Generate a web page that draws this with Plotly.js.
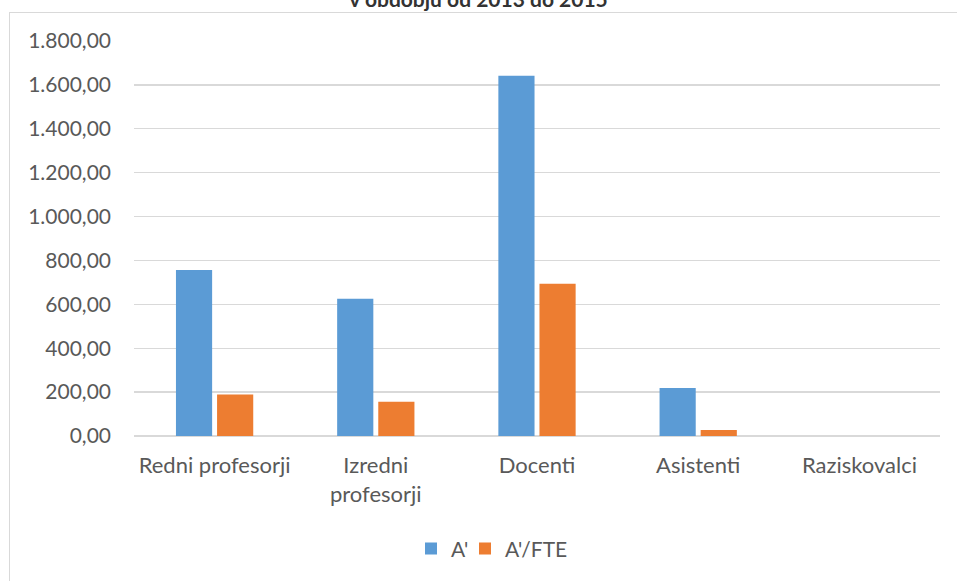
<!DOCTYPE html>
<html>
<head>
<meta charset="utf-8">
<script src="https://cdn.plot.ly/plotly-3.0.1.min.js"></script>
<style>
  html, body { margin: 0; padding: 0; background: #fff; }
  #wrap { position: relative; width: 957px; height: 581px; }
  #chart { width: 957px; height: 581px; }
  #frame { position: absolute; left: 9px; top: 12px; width: 948px; height: 569px;
           border-top: 1.5px solid #D9D9D9; border-left: 1.5px solid #D9D9D9;
           box-sizing: border-box; pointer-events: none; }
</style>
</head>
<body>
<div id="wrap">
  <div id="chart"></div>
  <div id="frame"></div>
</div>
<script>
const categories = ['Redni profesorji', 'Izredni<br>profesorji', 'Docenti', 'Asistenti', 'Raziskovalci'];
const seriesNames = ["A'", "A'/FTE"];
const valuesA = [756, 625, 1642, 219, 0];
const valuesAFTE = [189, 156, 694, 27, 0];
const titleText = 'v obdobju od 2013 do 2015';

const textColor = '#595959';
const font = 'Lato, "Open Sans", sans-serif';

const traces = [
  { type: 'bar', name: seriesNames[0], x: categories, y: valuesA,
    marker: { color: '#5B9BD5' }, hoverinfo: 'y', legend: 'legend' },
  { type: 'bar', name: seriesNames[1], x: categories, y: valuesAFTE,
    marker: { color: '#ED7D31' }, hoverinfo: 'y', legend: 'legend2' }
];

const legendFont = { family: font, size: 21, color: textColor };

const layout = {
  width: 957, height: 581,
  paper_bgcolor: '#fff', plot_bgcolor: '#fff',
  margin: { l: 134, r: 17, t: 41, b: 145 },
  separators: ',.',
  font: { family: font, size: 21, color: textColor },
  title: { text: '<b>' + titleText + '</b>', x: 0.5, xanchor: 'center', y: 1, yanchor: 'middle',
           font: { family: font, size: 21, color: '#333333' } },
  barmode: 'group', bargap: 0.49, bargroupgap: 0.12,
  xaxis: { type: 'category', showgrid: false, showline: false, zeroline: false, ticks: '',
           tickfont: { family: font, size: 22, color: textColor }, ticklabelstandoff: 14 },
  yaxis: { range: [0, 1800], dtick: 200, tickformat: ',.2f', showgrid: true, gridcolor: '#D9D9D9', gridwidth: 1.3,
           zeroline: true, zerolinecolor: '#D9D9D9', zerolinewidth: 1.3, showline: false, ticks: '',
           tickfont: { family: font, size: 21, color: textColor }, ticklabelstandoff: 22 },
  legend: { orientation: 'h', x: (411 - 134) / 806, xanchor: 'left', y: -0.286, yanchor: 'middle',
            font: legendFont, itemwidth: 30, bgcolor: 'rgba(0,0,0,0)' },
  legend2: { orientation: 'h', x: (465 - 134) / 806, xanchor: 'left', y: -0.286, yanchor: 'middle',
            font: legendFont, itemwidth: 30, bgcolor: 'rgba(0,0,0,0)' },
  showlegend: true
};

Plotly.newPlot('chart', traces, layout, { displayModeBar: false, staticPlot: true });
</script>
</body>
</html>
